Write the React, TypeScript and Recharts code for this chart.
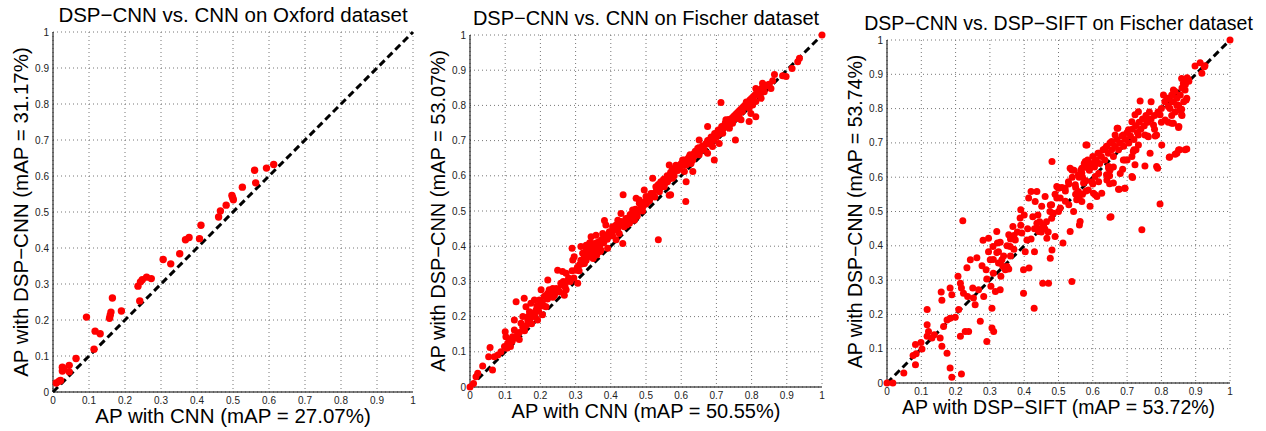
import React from 'react';
import { ScatterChart, Scatter, XAxis, YAxis, CartesianGrid } from 'recharts';

const ticks = [0, 0.1, 0.2, 0.3, 0.4, 0.5, 0.6, 0.7, 0.8, 0.9, 1];
const tickLabels = ['0', '0.1', '0.2', '0.3', '0.4', '0.5', '0.6', '0.7', '0.8', '0.9', '1'];
const diagonal = [{ x: 0, y: 0 }, { x: 1, y: 1 }];

// [AP of baseline, AP of DSP-CNN] per query
const oxfordPoints: [number, number][] = [
  [0.009, 0.025], [0.017, 0.03], [0.021, 0.032], [0.026, 0.069], [0.026, 0.058], [0.03, 0.064],
  [0.045, 0.074], [0.045, 0.056], [0.064, 0.093], [0.093, 0.208], [0.114, 0.119], [0.117, 0.169],
  [0.131, 0.162], [0.157, 0.205], [0.159, 0.213], [0.161, 0.222], [0.165, 0.261], [0.19, 0.225],
  [0.236, 0.294], [0.241, 0.253], [0.243, 0.306], [0.248, 0.312], [0.26, 0.319], [0.273, 0.315],
  [0.306, 0.368], [0.327, 0.356], [0.352, 0.384], [0.368, 0.423], [0.378, 0.429], [0.407, 0.426],
  [0.411, 0.463], [0.46, 0.486], [0.465, 0.503], [0.481, 0.519], [0.497, 0.546], [0.499, 0.54],
  [0.501, 0.534], [0.526, 0.569], [0.56, 0.616], [0.563, 0.581], [0.593, 0.622], [0.613, 0.632],
];

const fischerPoints: [number, number][] = [
  [0, 0], [0.01, 0.01], [0.017, 0.029], [0.022, 0.039], [0.036, 0.06], [0.053, 0.086], [0.057, 0.112],
  [0.064, 0.048], [0.069, 0.086], [0.079, 0.091], [0.088, 0.1], [0.098, 0.115], [0.1, 0.157],
  [0.102, 0.143], [0.107, 0.124], [0.112, 0.134], [0.121, 0.143], [0.126, 0.162], [0.126, 0.19],
  [0.131, 0.242], [0.145, 0.181], [0.15, 0.2], [0.154, 0.252], [0.159, 0.228], [0.164, 0.19],
  [0.169, 0.214], [0.173, 0.238], [0.178, 0.2], [0.183, 0.247], [0.188, 0.219], [0.192, 0.19],
  [0.197, 0.247], [0.202, 0.276], [0.206, 0.205], [0.211, 0.257], [0.216, 0.228], [0.221, 0.304],
  [0.221, 0.266], [0.225, 0.276], [0.235, 0.28], [0.24, 0.261], [0.249, 0.332], [0.258, 0.295],
  [0.263, 0.328], [0.268, 0.261], [0.273, 0.323], [0.273, 0.276], [0.29, 0.394], [0.292, 0.361],
  [0.296, 0.37], [0.301, 0.332], [0.306, 0.295], [0.311, 0.347], [0.315, 0.399], [0.32, 0.38],
  [0.325, 0.351], [0.33, 0.403], [0.334, 0.37], [0.339, 0.394], [0.344, 0.427], [0.348, 0.408],
  [0.353, 0.38], [0.358, 0.431], [0.363, 0.399], [0.367, 0.413], [0.372, 0.389], [0.377, 0.436],
  [0.382, 0.473], [0.386, 0.46], [0.391, 0.394], [0.396, 0.441], [0.405, 0.455], [0.415, 0.418],
  [0.42, 0.474], [0.424, 0.436], [0.429, 0.493], [0.434, 0.408], [0.438, 0.455], [0.443, 0.479],
  [0.453, 0.465], [0.462, 0.503], [0.467, 0.474], [0.476, 0.498], [0.481, 0.522], [0.491, 0.512],
  [0.505, 0.526], [0.435, 0.546], [0.535, 0.418], [0.57, 0.546], [0.613, 0.527],
  [1, 1], [0.936, 0.934], [0.931, 0.924], [0.915, 0.905], [0.898, 0.882], [0.888, 0.884],
  [0.865, 0.888], [0.831, 0.863], [0.845, 0.858], [0.855, 0.848], [0.812, 0.848], [0.836, 0.839],
  [0.822, 0.83], [0.827, 0.82], [0.812, 0.811], [0.803, 0.801], [0.793, 0.792], [0.784, 0.796],
  [0.798, 0.777], [0.812, 0.768], [0.793, 0.754], [0.713, 0.808], [0.774, 0.783], [0.765, 0.773],
  [0.756, 0.763], [0.77, 0.759], [0.746, 0.749], [0.727, 0.759], [0.723, 0.74], [0.737, 0.735],
  [0.754, 0.702], [0.713, 0.73], [0.704, 0.716], [0.718, 0.721], [0.694, 0.702], [0.708, 0.692],
  [0.675, 0.74], [0.68, 0.702], [0.689, 0.683], [0.671, 0.692], [0.661, 0.678], [0.651, 0.702],
  [0.675, 0.664], [0.694, 0.645], [0.647, 0.678], [0.637, 0.664], [0.651, 0.66], [0.633, 0.645],
  [0.623, 0.654], [0.628, 0.635], [0.604, 0.645], [0.614, 0.631], [0.609, 0.612], [0.633, 0.612],
  [0.594, 0.626], [0.585, 0.616], [0.566, 0.631], [0.571, 0.607], [0.575, 0.593], [0.561, 0.583],
  [0.614, 0.583], [0.542, 0.583], [0.552, 0.569], [0.528, 0.569], [0.538, 0.555], [0.566, 0.545],
  [0.519, 0.593], [0.514, 0.55], [0.495, 0.56], [0.5, 0.541], [0.481, 0.531], [0.486, 0.512],
  [0.472, 0.536],
  [0.105, 0.11], [0.11, 0.125], [0.115, 0.115], [0.12, 0.13], [0.13, 0.14], [0.135, 0.15],
  [0.14, 0.155], [0.14, 0.135], [0.15, 0.17], [0.155, 0.16], [0.16, 0.175], [0.165, 0.2],
  [0.17, 0.19], [0.175, 0.18], [0.18, 0.21], [0.185, 0.2], [0.19, 0.23], [0.195, 0.215],
  [0.2, 0.23], [0.205, 0.24], [0.21, 0.23], [0.215, 0.26], [0.22, 0.25], [0.23, 0.26],
  [0.235, 0.255], [0.24, 0.27], [0.245, 0.28], [0.25, 0.275], [0.255, 0.27], [0.26, 0.29],
  [0.265, 0.3], [0.27, 0.285], [0.275, 0.3], [0.28, 0.31], [0.285, 0.3], [0.29, 0.33],
  [0.295, 0.31], [0.305, 0.34], [0.31, 0.33], [0.315, 0.36], [0.32, 0.35], [0.325, 0.37],
  [0.33, 0.36], [0.335, 0.385], [0.34, 0.375], [0.345, 0.39], [0.35, 0.4], [0.355, 0.385],
  [0.36, 0.41], [0.365, 0.395], [0.37, 0.405], [0.375, 0.42], [0.38, 0.41], [0.385, 0.43],
  [0.39, 0.42], [0.395, 0.43], [0.4, 0.44], [0.33, 0.395], [0.34, 0.41], [0.345, 0.37],
  [0.35, 0.365], [0.36, 0.375], [0.37, 0.385], [0.405, 0.43], [0.41, 0.445], [0.415, 0.46],
  [0.42, 0.45], [0.425, 0.46], [0.43, 0.47], [0.435, 0.46], [0.44, 0.465], [0.445, 0.46],
  [0.45, 0.48], [0.455, 0.49], [0.46, 0.475], [0.465, 0.49], [0.47, 0.505], [0.475, 0.485],
  [0.48, 0.5], [0.485, 0.52], [0.49, 0.5], [0.495, 0.525], [0.5, 0.52], [0.505, 0.54],
  [0.51, 0.53], [0.515, 0.545], [0.52, 0.55], [0.525, 0.54], [0.53, 0.56], [0.535, 0.575],
  [0.54, 0.565], [0.545, 0.57], [0.55, 0.59], [0.555, 0.58], [0.56, 0.6], [0.565, 0.59],
  [0.57, 0.61], [0.575, 0.62], [0.58, 0.6], [0.585, 0.63], [0.59, 0.615], [0.595, 0.62],
  [0.6, 0.635], [0.605, 0.63], [0.61, 0.645], [0.615, 0.64], [0.62, 0.65], [0.625, 0.66],
  [0.63, 0.645], [0.635, 0.655], [0.64, 0.67], [0.645, 0.66], [0.65, 0.68], [0.655, 0.67],
  [0.66, 0.685], [0.665, 0.675], [0.67, 0.69], [0.675, 0.7], [0.68, 0.69], [0.685, 0.71],
  [0.69, 0.7], [0.695, 0.72], [0.7, 0.71], [0.705, 0.73], [0.71, 0.72], [0.715, 0.74],
  [0.72, 0.735], [0.725, 0.75], [0.73, 0.745], [0.735, 0.76], [0.74, 0.755], [0.745, 0.765],
  [0.75, 0.77], [0.755, 0.775], [0.76, 0.78], [0.765, 0.785], [0.77, 0.79], [0.775, 0.795],
  [0.78, 0.8], [0.785, 0.81], [0.79, 0.805], [0.795, 0.815], [0.8, 0.82], [0.805, 0.825],
  [0.81, 0.83], [0.815, 0.835], [0.82, 0.84], [0.825, 0.845], [0.83, 0.85], [0.84, 0.855],
  [0.85, 0.86], [0.86, 0.87],
];

const siftPoints: [number, number][] = [
  [0, 0], [0.017, 0], [0.049, 0.029], [0.076, 0.08], [0.085, 0.085], [0.083, 0.112], [0.099, 0.118],
  [0.102, 0.099], [0.083, 0.053], [0.117, 0.214], [0.117, 0.17], [0.121, 0.15], [0.117, 0.136],
  [0.131, 0.131], [0.138, 0.141], [0.155, 0.131], [0.16, 0.107], [0.175, 0.087], [0.158, 0.265],
  [0.16, 0.241], [0.165, 0.165], [0.175, 0.184], [0.184, 0.189], [0.184, 0.277], [0.189, 0.257],
  [0.184, 0.044], [0.189, 0.017], [0.199, 0.192], [0.209, 0.214], [0.207, 0.311], [0.214, 0.291],
  [0.217, 0.277], [0.214, 0.136], [0.217, 0.026], [0.221, 0.473], [0.223, 0.262], [0.228, 0.15],
  [0.233, 0.336], [0.235, 0.252], [0.238, 0.15], [0.243, 0.359], [0.25, 0.277], [0.252, 0.248],
  [0.257, 0.228], [0.262, 0.365], [0.267, 0.272], [0.272, 0.18], [0.277, 0.342], [0.28, 0.416],
  [0.282, 0.252], [0.289, 0.33], [0.291, 0.303], [0.291, 0.121], [0.296, 0.422], [0.296, 0.383],
  [0.301, 0.359], [0.303, 0.282], [0.306, 0.218], [0.306, 0.16], [0.311, 0.15], [0.309, 0.398],
  [0.316, 0.267], [0.32, 0.442], [0.322, 0.408], [0.325, 0.383], [0.325, 0.35], [0.33, 0.272],
  [0.332, 0.311], [0.335, 0.359], [0.338, 0.34], [0.345, 0.33], [0.355, 0.432], [0.355, 0.332],
  [0.359, 0.398], [0.367, 0.456], [0.374, 0.417], [0.388, 0.481], [0.39, 0.505], [0.393, 0.437],
  [0.398, 0.33], [0.398, 0.262], [0.403, 0.383], [0.408, 0.417], [0.413, 0.539], [0.414, 0.335],
  [0.42, 0.558], [0.425, 0.485], [0.429, 0.218], [0.43, 0.383], [0.432, 0.529], [0.437, 0.558],
  [0.437, 0.466], [0.442, 0.442], [0.451, 0.515], [0.454, 0.291], [0.456, 0.456], [0.461, 0.544],
  [0.466, 0.422], [0.471, 0.291], [0.476, 0.364], [0.481, 0.646], [0.481, 0.388], [0.485, 0.495],
  [0.49, 0.427], [0.495, 0.573], [0.505, 0.539], [0.513, 0.408], [0.534, 0.442], [0.539, 0.296],
  [0.539, 0.621], [0.544, 0.5], [0.553, 0.534], [0.563, 0.471], [0.561, 0.461], [0.568, 0.612],
  [0.573, 0.583], [0.583, 0.694], [0.592, 0.515], [0.602, 0.553], [0.607, 0.602], [0.612, 0.544],
  [0.626, 0.553], [0.641, 0.592], [0.646, 0.631], [0.649, 0.604], [0.65, 0.483], [0.66, 0.583],
  [0.673, 0.743], [0.675, 0.565], [0.687, 0.623], [0.689, 0.65], [0.694, 0.568], [0.714, 0.602],
  [0.714, 0.66], [0.723, 0.636], [0.726, 0.68], [0.733, 0.694], [0.738, 0.822], [0.743, 0.447],
  [0.752, 0.633], [0.762, 0.718], [0.767, 0.67], [0.782, 0.72], [0.786, 0.631], [0.796, 0.522],
  [0.801, 0.694], [0.806, 0.84], [0.811, 0.767], [0.823, 0.658], [0.835, 0.757], [0.84, 0.667],
  [0.85, 0.679], [0.851, 0.748], [0.859, 0.798], [0.869, 0.68], [0.872, 0.825], [0.859, 0.888],
  [0.879, 0.885], [0.898, 0.924], [0.913, 0.934], [0.918, 0.903], [0.927, 0.925], [1, 1],
  [0.925, 0.922], [0.878, 0.883], [0.864, 0.874], [0.835, 0.854], [0.869, 0.854], [0.874, 0.83],
  [0.816, 0.83], [0.83, 0.82], [0.82, 0.806], [0.845, 0.81], [0.854, 0.796], [0.859, 0.782],
  [0.77, 0.82], [0.83, 0.757], [0.85, 0.745], [0.853, 0.68], [0.845, 0.67], [0.874, 0.682],
  [0.824, 0.659], [0.789, 0.626], [0.716, 0.599], [0.693, 0.568], [0.677, 0.565], [0.649, 0.581],
  [0.58, 0.694], [0.653, 0.485],
  [0.671, 0.743], [0.723, 0.782], [0.733, 0.791], [0.714, 0.762], [0.704, 0.738], [0.689, 0.723],
  [0.665, 0.723], [0.655, 0.704], [0.636, 0.684], [0.617, 0.67], [0.607, 0.646], [0.587, 0.626],
  [0.578, 0.646], [0.568, 0.626], [0.558, 0.607], [0.549, 0.578], [0.534, 0.626], [0.529, 0.587],
  [0.519, 0.568], [0.5, 0.568], [0.495, 0.539], [0.505, 0.51], [0.476, 0.519], [0.733, 0.723],
  [0.752, 0.723], [0.757, 0.767], [0.777, 0.752], [0.796, 0.782], [0.786, 0.723], [0.718, 0.675],
  [0.694, 0.65], [0.68, 0.611], [0.646, 0.626], [0.64, 0.607], [0.617, 0.611], [0.597, 0.587],
  [0.587, 0.563], [0.568, 0.529], [0.558, 0.558], [0.607, 0.549], [0.617, 0.587],
  [0.55, 0.57], [0.56, 0.6], [0.565, 0.62], [0.57, 0.6], [0.575, 0.64], [0.58, 0.63],
  [0.585, 0.65], [0.59, 0.62], [0.595, 0.64], [0.6, 0.66], [0.605, 0.63], [0.61, 0.65],
  [0.615, 0.67], [0.62, 0.64], [0.625, 0.66], [0.63, 0.68], [0.635, 0.65], [0.64, 0.69],
  [0.645, 0.67], [0.65, 0.7], [0.655, 0.68], [0.66, 0.66], [0.665, 0.69], [0.67, 0.71],
  [0.675, 0.68], [0.68, 0.7], [0.685, 0.72], [0.69, 0.69], [0.695, 0.71], [0.7, 0.73],
  [0.705, 0.7], [0.71, 0.72], [0.715, 0.74], [0.72, 0.71], [0.725, 0.75], [0.73, 0.73],
  [0.735, 0.76], [0.74, 0.74], [0.745, 0.77], [0.75, 0.75], [0.755, 0.78], [0.76, 0.76],
  [0.765, 0.79], [0.77, 0.77], [0.78, 0.78], [0.79, 0.79], [0.8, 0.8], [0.81, 0.82],
  [0.82, 0.83], [0.825, 0.8], [0.83, 0.84], [0.835, 0.82], [0.84, 0.85], [0.845, 0.83],
  [0.85, 0.81], [0.855, 0.84], [0.86, 0.86], [0.865, 0.82], [0.87, 0.87], [0.875, 0.89],
  [0.88, 0.88], [0.82, 0.76], [0.83, 0.78], [0.84, 0.79], [0.86, 0.78], [0.7, 0.65],
  [0.72, 0.68], [0.65, 0.62], [0.66, 0.63], [0.6, 0.58], [0.58, 0.56], [0.76, 0.72],
  [0.78, 0.74], [0.8, 0.76],
  [0.44, 0.45], [0.445, 0.47], [0.45, 0.44], [0.455, 0.46], [0.46, 0.45], [0.465, 0.47],
  [0.47, 0.44], [0.475, 0.5], [0.48, 0.52], [0.49, 0.55], [0.5, 0.57], [0.51, 0.57],
  [0.52, 0.56], [0.53, 0.58], [0.54, 0.6], [0.545, 0.62], [0.55, 0.55], [0.56, 0.54],
  [0.57, 0.55], [0.58, 0.59], [0.48, 0.48], [0.5, 0.5], [0.52, 0.53], [0.53, 0.52],
  [0.44, 0.49], [0.43, 0.45], [0.42, 0.42], [0.41, 0.45],
  [0.31, 0.36], [0.32, 0.38], [0.33, 0.35], [0.34, 0.37], [0.35, 0.4], [0.36, 0.42],
  [0.37, 0.43], [0.38, 0.44], [0.39, 0.46], [0.4, 0.49], [0.31, 0.32], [0.33, 0.41],
  [0.35, 0.34], [0.36, 0.37], [0.37, 0.39],
];

const H = 431;
const Y_W = 30;
const X_H = 20;
const FONT = '"Liberation Sans", Arial, Helvetica, sans-serif';

const panels = [
  {
    key: 'oxford', points: oxfordPoints,
    title: 'DSP\u2212CNN vs. CNN on Oxford dataset',
    xLabel: 'AP with CNN (mAP = 27.07%)',
    yLabel: 'AP with DSP\u2212CNN (mAP = 31.17%)',
    left: 0, width: 420, plotLeft: 53, plotTop: 32, plotSize: 360, font: 20.5, r: 3.7,
  },
  {
    key: 'fischer', points: fischerPoints,
    title: 'DSP\u2212CNN vs. CNN on Fischer dataset',
    xLabel: 'AP with CNN (mAP = 50.55%)',
    yLabel: 'AP with DSP\u2212CNN (mAP = 53.07%)',
    left: 420, width: 420, plotLeft: 470, plotTop: 35, plotSize: 352, font: 20, r: 3.5,
  },
  {
    key: 'sift', points: siftPoints,
    title: 'DSP\u2212CNN vs. DSP\u2212SIFT on Fischer dataset',
    xLabel: 'AP with DSP\u2212SIFT (mAP = 53.72%)',
    yLabel: 'AP with DSP\u2212CNN (mAP = 53.74%)',
    left: 840, width: 426, plotLeft: 887, plotTop: 40, plotSize: 343, font: 19.5, r: 3.5,
  },
];

const fmt = (v: number) => tickLabels[ticks.indexOf(v)] ?? String(v);

function Panel({ p }: { p: typeof panels[number] }) {
  const data = p.points.map(([x, y]) => ({ x, y }));
  const margin = {
    top: p.plotTop,
    left: p.plotLeft - p.left - Y_W,
    right: p.left + p.width - p.plotLeft - p.plotSize,
    bottom: H - p.plotTop - p.plotSize - X_H,
  };
  const cx = p.plotLeft - p.left + p.plotSize / 2;
  const cy = p.plotTop + p.plotSize / 2;
  const tick = { fontSize: 10, fill: '#222' };
  return (
    <div style={{ position: 'absolute', left: p.left, top: 0, width: p.width, height: H }}>
      <ScatterChart width={p.width} height={H} margin={margin}>
        <CartesianGrid stroke="#777" strokeDasharray="1 3" />
        <XAxis type="number" dataKey="x" domain={[0, 1]} ticks={ticks} tickFormatter={fmt}
          height={X_H} tickSize={0} tickMargin={5} tick={tick} axisLine={{ stroke: '#000' }} />
        <YAxis type="number" dataKey="y" domain={[0, 1]} ticks={ticks} tickFormatter={fmt}
          width={Y_W} tickSize={0} tickMargin={4} tick={tick} axisLine={{ stroke: '#000' }} />
        <Scatter data={diagonal} isAnimationActive={false} shape={() => <g />}
          line={{ stroke: '#000', strokeWidth: 3, strokeDasharray: '7 4' }} />
        <Scatter data={data} fill="#ff0000" isAnimationActive={false}
          shape={(s: any) => <circle cx={s.cx} cy={s.cy} r={p.r} fill="#ff0000" />} />
      </ScatterChart>
      <svg width={p.width} height={H} style={{ position: 'absolute', left: 0, top: 0, pointerEvents: 'none' }}>
        <g fontFamily={FONT} fontSize={p.font} fill="#000" textAnchor="middle">
          <text x={cx} y={p.plotTop - 10}>{p.title}</text>
          <text x={cx} y={p.plotTop + p.plotSize + 31}>{p.xLabel}</text>
          <text transform={`translate(${p.plotLeft - p.left - 25},${cy}) rotate(-90)`}>{p.yLabel}</text>
        </g>
      </svg>
    </div>
  );
}

export default function App() {
  return (
    <div style={{ position: 'absolute', left: 0, top: 0, width: 1266, height: H, background: '#fff', fontFamily: FONT }}>
      {panels.map((p) => <Panel key={p.key} p={p} />)}
    </div>
  );
}
